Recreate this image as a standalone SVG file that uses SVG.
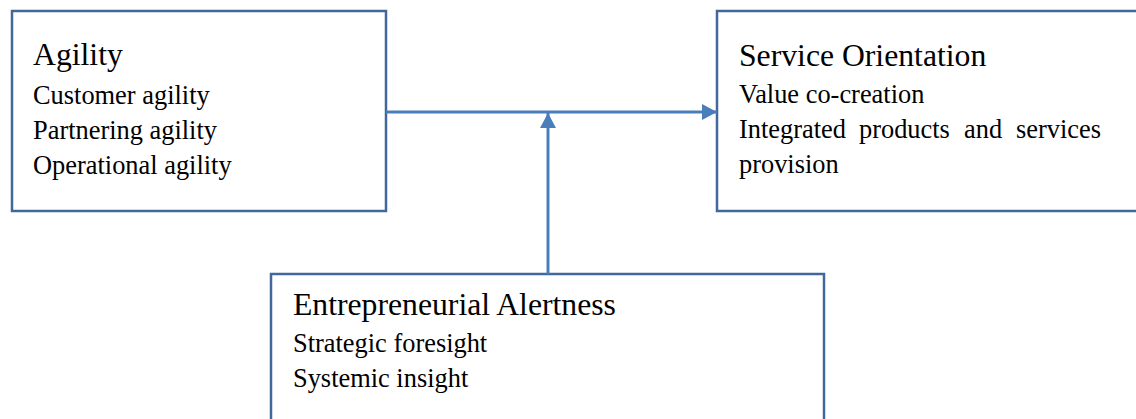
<svg xmlns="http://www.w3.org/2000/svg" width="1136" height="419" viewBox="0 0 1136 419">
  <style>
    .box { fill: #ffffff; stroke: #41679b; stroke-width: 2.5; }
    .title { font-family: "Liberation Serif", "Times New Roman", serif; font-size: 31.7px; fill: #000000; }
    .item { font-family: "Liberation Serif", "Times New Roman", serif; font-size: 26.4px; fill: #000000; }
    .link { fill: none; stroke: #4a7ebb; stroke-width: 3; }
  </style>
  <defs>
    <marker id="arrow" viewBox="0 0 15 16" refX="15" refY="8" markerWidth="15" markerHeight="16" markerUnits="userSpaceOnUse" orient="auto">
      <path d="M0,0 L15,8 L0,16 Z" fill="#4a7ebb"/>
    </marker>
  </defs>
  <rect width="1136" height="419" fill="#ffffff"/>

  <g id="agility">
    <rect class="box" x="12" y="11" width="374" height="200"/>
    <text class="title" x="33" y="65">Agility</text>
    <text class="item" x="33" y="104">Customer agility</text>
    <text class="item" x="33" y="139">Partnering agility</text>
    <text class="item" x="33" y="174">Operational agility</text>
  </g>

  <g id="service-orientation">
    <rect class="box" x="717" y="11" width="430" height="200"/>
    <text class="title" x="739" y="66">Service Orientation</text>
    <text class="item" x="739" y="103">Value co-creation</text>
    <text class="item" y="138"><tspan x="739">Integrated</tspan><tspan x="859">products</tspan><tspan x="964">and</tspan><tspan x="1016">services</tspan></text>
    <text class="item" x="739" y="173">provision</text>
  </g>

  <g id="entrepreneurial-alertness">
    <rect class="box" x="271" y="274" width="553" height="160"/>
    <text class="title" x="293" y="315">Entrepreneurial Alertness</text>
    <text class="item" x="293" y="352">Strategic foresight</text>
    <text class="item" x="293" y="387">Systemic insight</text>
  </g>

  <g id="connectors">
    <line class="link" x1="386" y1="112" x2="717" y2="112" marker-end="url(#arrow)"/>
    <line class="link" x1="548" y1="274" x2="548" y2="113" marker-end="url(#arrow)"/>
  </g>
</svg>
